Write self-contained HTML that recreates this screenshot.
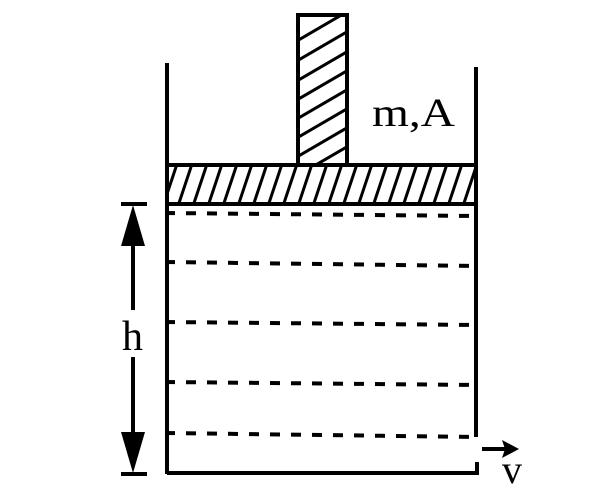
<!DOCTYPE html>
<html><head><style>body{margin:0;background:#fff}svg{display:block}</style></head><body>
<svg width="609" height="501" viewBox="0 0 609 501" xmlns="http://www.w3.org/2000/svg">
<defs>
<clipPath id="cp"><rect x="169" y="166" width="306" height="37"/></clipPath>
<clipPath id="cr"><rect x="299" y="16" width="47" height="149"/></clipPath>
</defs>
<g stroke="#000" stroke-width="4" fill="none">
<line x1="167" y1="63" x2="167" y2="474"/>
<line x1="476" y1="67" x2="476" y2="437"/>
<line x1="167" y1="473" x2="477" y2="473"/>
<line x1="477" y1="462" x2="477" y2="475"/>
<rect x="167" y="165" width="309" height="39"/>
<rect x="298" y="15" width="49" height="150"/>
</g>
<g stroke="#000" stroke-width="3" clip-path="url(#cp)">
<line x1="160" y1="215" x2="180" y2="155"/><line x1="175" y1="215" x2="195" y2="155"/><line x1="190" y1="215" x2="210" y2="155"/><line x1="205" y1="215" x2="225" y2="155"/><line x1="220" y1="215" x2="240" y2="155"/><line x1="235" y1="215" x2="255" y2="155"/><line x1="250" y1="215" x2="270" y2="155"/><line x1="265" y1="215" x2="285" y2="155"/><line x1="280" y1="215" x2="300" y2="155"/><line x1="295" y1="215" x2="315" y2="155"/><line x1="310" y1="215" x2="330" y2="155"/><line x1="325" y1="215" x2="345" y2="155"/><line x1="340" y1="215" x2="360" y2="155"/><line x1="355" y1="215" x2="375" y2="155"/><line x1="370" y1="215" x2="390" y2="155"/><line x1="385" y1="215" x2="405" y2="155"/><line x1="400" y1="215" x2="420" y2="155"/><line x1="415" y1="215" x2="435" y2="155"/><line x1="430" y1="215" x2="450" y2="155"/><line x1="445" y1="215" x2="465" y2="155"/><line x1="460" y1="215" x2="480" y2="155"/><line x1="475" y1="215" x2="495" y2="155"/>
</g>
<g stroke="#000" stroke-width="3" clip-path="url(#cr)">
<line x1="290" y1="45" x2="350" y2="10"/><line x1="290" y1="65" x2="350" y2="30"/><line x1="290" y1="85" x2="350" y2="50"/><line x1="290" y1="104" x2="350" y2="69"/><line x1="290" y1="123" x2="350" y2="88"/><line x1="290" y1="142" x2="350" y2="107"/><line x1="290" y1="161" x2="350" y2="126"/><line x1="290" y1="180" x2="350" y2="145"/>
</g>
<g stroke="#000" stroke-width="4" stroke-dasharray="10,11">
<line x1="165" y1="213" x2="476" y2="216"/>
<line x1="165" y1="262" x2="476" y2="266"/>
<line x1="165" y1="322" x2="476" y2="325"/>
<line x1="165" y1="382" x2="476" y2="385"/>
<line x1="165" y1="433" x2="476" y2="437"/>
</g>
<g stroke="#000" stroke-width="4">
<line x1="121" y1="204" x2="147" y2="204"/>
<line x1="121" y1="474" x2="147" y2="474"/>
<line x1="133" y1="240" x2="133" y2="310"/>
<line x1="133" y1="357" x2="133" y2="440"/>
<line x1="482" y1="449" x2="505" y2="449"/>
</g>
<polygon points="133,205 121,246 145,246" fill="#000"/>
<polygon points="133,473 121,432 145,432" fill="#000"/>
<polygon points="519,449 502,440 505,449 502,458" fill="#000"/>
<g font-family="Liberation Serif, serif" fill="#000">
<text x="372" y="126" font-size="40" textLength="83" lengthAdjust="spacingAndGlyphs">m,A</text>
<text x="122" y="350" font-size="42">h</text>
<text x="502" y="483" font-size="40">v</text>
</g>
</svg>
</body></html>
